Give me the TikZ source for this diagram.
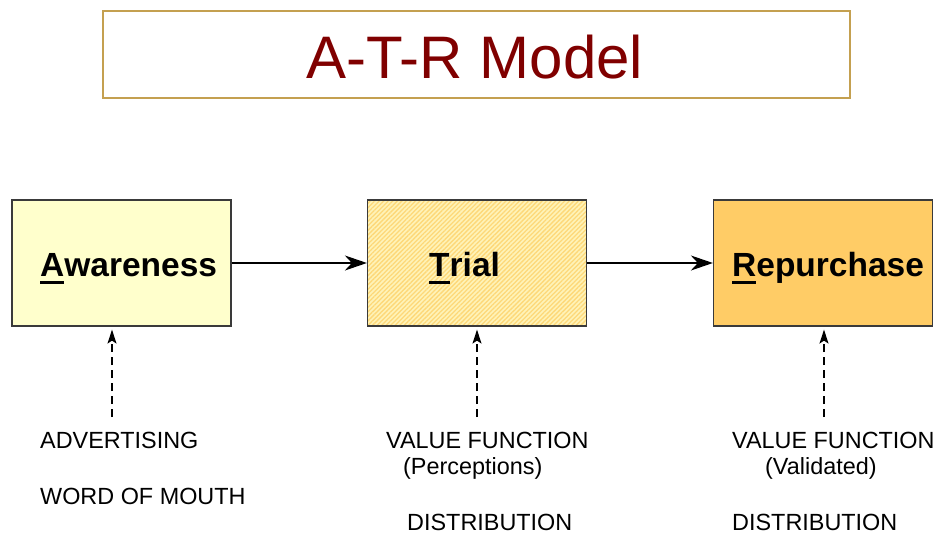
\documentclass[tikz,border=0pt]{standalone}
\usepackage{fontspec}
\setmainfont{Liberation Sans}
\usetikzlibrary{arrows.meta,patterns.meta}
\definecolor{titlered}{HTML}{800000}
\definecolor{titleframe}{HTML}{C4A050}
\definecolor{awfill}{HTML}{FFFFCC}
\definecolor{trfill}{HTML}{FFF3B8}
\definecolor{trhatch}{HTML}{FDD878}
\definecolor{rpfill}{HTML}{FFCC66}
\definecolor{boxline}{HTML}{3A3A3A}
\newcommand\firstul[1]{\setbox0\hbox{#1}\rlap{\copy0}\rule[-8pt]{\wd0}{3.5pt}}
\tikzset{
  stagebox/.style={draw=boxline, line width=1.2pt, minimum width=219pt, minimum height=126pt, inner sep=0pt},
  stagelabel/.style={anchor=base west, inner sep=0pt, font=\fontsize{33.5}{36}\selectfont\bfseries},
  factor/.style={anchor=base west, inner sep=0pt, font=\fontsize{23.4}{26}\selectfont},
  flow/.style={line width=2pt, -{Stealth[length=22pt,width=15pt,inset=7pt]}},
  influence/.style={line width=1.3pt, dash pattern=on 8pt off 5pt, -{Stealth[length=14pt,width=9pt,inset=3pt]}, shorten >=3pt}
}
\begin{document}
\begin{tikzpicture}[x=1pt,y=-1pt]
\useasboundingbox (0,0) rectangle (943,535);
% title
\node[draw=titleframe, line width=1.8pt, minimum width=747pt, minimum height=87pt, inner sep=0pt] (titlebox) at (476.5,54.5) {};
\node[anchor=base, inner sep=0pt, text=titlered, font=\fontsize{60}{64}\selectfont] (title) at (475,78) {A-T-R Model};
% stages
\node[stagebox, fill=awfill] (aw) at (121.5,263) {};
\node[stagebox, preaction={fill=trfill}, preaction={pattern={Lines[angle=45,distance=3.2pt,line width=1.3pt]}, pattern color=trhatch}] (tr) at (477,263) {};
\node[stagebox, fill=rpfill] (rp) at (823,263) {};
\node[stagelabel] (awl) at (40,276) {\firstul{A}wareness};
\node[stagelabel] (trl) at (429,276) {\firstul{T}rial};
\node[stagelabel] (rpl) at (732,276) {\firstul{R}epurchase};
\draw[flow] (aw.east) -- (tr.west);
\draw[flow] (tr.east) -- (rp.west);
% influences
\coordinate (awin) at (112,417);
\coordinate (trin) at (477,417);
\coordinate (rpin) at (824,417);
\draw[influence] (awin) -- (awin |- aw.south);
\draw[influence] (trin) -- (trin |- tr.south);
\draw[influence] (rpin) -- (rpin |- rp.south);
\node[factor] (adv) at (40,448) {ADVERTISING};
\node[factor] (wom) at (40,504) {WORD OF MOUTH};
\node[factor] (vf1) at (386,448) {VALUE FUNCTION};
\node[factor] (perc) at (403,474) {(Perceptions)};
\node[factor] (dist1) at (407,530) {DISTRIBUTION};
\node[factor] (vf2) at (732,448) {VALUE FUNCTION};
\node[factor] (valid) at (765,474) {(Validated)};
\node[factor] (dist2) at (732,530) {DISTRIBUTION};
\end{tikzpicture}
\end{document}
